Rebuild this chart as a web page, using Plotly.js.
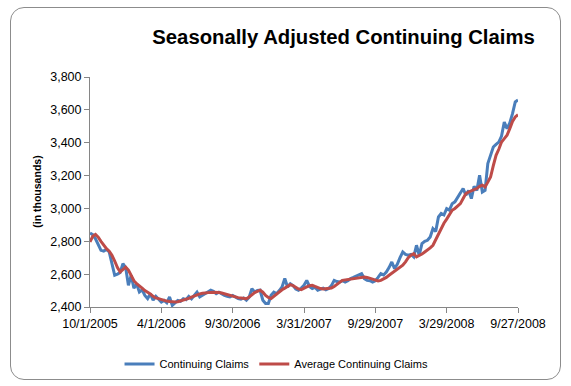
<!DOCTYPE html>
<html>
<head>
<meta charset="utf-8">
<script src="https://cdn.plot.ly/plotly-3.0.1.min.js"></script>
<style>
  html, body { margin: 0; padding: 0; background: #fff; }
  #wrap { position: relative; width: 571px; height: 386px; }
  #chart { width: 571px; height: 386px; }
  #frame { position: absolute; left: 10px; top: 7px; width: 549px; height: 371px;
           border: 1px solid #8c8c8c; border-radius: 14px; pointer-events: none; }
</style>
</head>
<body>
<div id="wrap"><div id="chart"></div><div id="frame"></div></div>
<script>
// Weekly categories: 157 weeks starting 10/1/2005
const firstWeek = '2005-10-01';
const weekCount = 157;
const tickDates = ['2005-10-01','2006-04-01','2006-09-30','2007-03-31','2007-09-29','2008-03-29','2008-09-27'];
const tickLabels = ['10/1/2005','4/1/2006','9/30/2006','3/31/2007','9/29/2007','3/29/2008','9/27/2008'];

// Continuing Claims (thousands)
const continuingClaims = [
  2850, 2840, 2815, 2780, 2745, 2740, 2750, 2735, 2660, 2593,
  2600, 2610, 2664, 2640, 2532, 2593, 2514, 2540, 2491, 2505,
  2470, 2451, 2480, 2441, 2465, 2445, 2430, 2440, 2425, 2461,
  2410, 2425, 2440, 2435, 2451, 2445, 2465, 2450, 2470, 2491,
  2461, 2470, 2481, 2490, 2502, 2495, 2481, 2490, 2478, 2471,
  2465, 2461, 2470, 2458, 2451, 2447, 2455, 2441, 2460, 2512,
  2491, 2500, 2502, 2441, 2421, 2421, 2471, 2490, 2481, 2500,
  2522, 2573, 2522, 2542, 2530, 2510, 2502, 2515, 2532, 2562,
  2525, 2512, 2520, 2502, 2510, 2515, 2505, 2512, 2530, 2562,
  2555, 2552, 2560, 2552, 2560, 2573, 2580, 2590, 2595, 2603,
  2573, 2562, 2560, 2552, 2560, 2580, 2603, 2595, 2613, 2640,
  2674, 2634, 2660, 2700, 2735, 2720, 2715, 2720, 2705, 2776,
  2715, 2786, 2800, 2806, 2826, 2877, 2860, 2948, 2969, 2960,
  2999, 2990, 3029, 3040, 3070, 3100, 3121, 3080, 3110, 3060,
  3135, 3110, 3202, 3100, 3110, 3273, 3323, 3374, 3390, 3404,
  3440, 3526, 3486, 3520, 3577, 3648, 3660
];

// Average Continuing Claims (thousands)
const averageClaims = [
  2796, 2830, 2842, 2825, 2800, 2775, 2755, 2740, 2715, 2680,
  2640, 2613, 2630, 2643, 2625, 2590, 2560, 2542, 2530, 2515,
  2500, 2491, 2480, 2465, 2455, 2451, 2445, 2440, 2436, 2433,
  2431, 2430, 2432, 2436, 2440, 2445, 2452, 2460, 2468, 2475,
  2480, 2484, 2487, 2488, 2489, 2490, 2490, 2489, 2485, 2480,
  2475, 2470, 2465, 2460, 2457, 2455, 2452, 2450, 2460, 2475,
  2488, 2495, 2502, 2490, 2470, 2458, 2451, 2465, 2480, 2495,
  2505, 2515, 2525, 2536, 2530, 2520, 2510, 2506, 2512, 2522,
  2530, 2532, 2525, 2518, 2512, 2510, 2512, 2515, 2516, 2525,
  2540, 2550, 2562, 2565, 2568, 2570, 2572, 2575, 2578, 2580,
  2583, 2580, 2575, 2570, 2562, 2558, 2562, 2570, 2580, 2593,
  2605, 2615, 2625, 2640, 2654, 2675, 2700, 2715, 2725, 2705,
  2712, 2722, 2735, 2745, 2760, 2776, 2810, 2846, 2880, 2910,
  2935, 2960, 2989, 3000, 3015, 3029, 3060, 3090, 3100, 3110,
  3115, 3121, 3135, 3141, 3131, 3160, 3191, 3260, 3323, 3360,
  3404, 3425, 3445, 3486, 3530, 3557, 3570
];

const seriesNames = ['Continuing Claims', 'Average Continuing Claims'];

const weeks = [];
{
  const d0 = new Date(firstWeek + 'T00:00:00Z');
  for (let i = 0; i < weekCount; i++) {
    const d = new Date(d0.getTime() + i * 7 * 86400000);
    weeks.push(d.toISOString().slice(0, 10));
  }
}

const FONT = '"Liberation Sans", Arial, sans-serif';

const traces = [
  { x: weeks, y: continuingClaims, name: seriesNames[0], type: 'scatter', mode: 'lines',
    line: { color: '#4A7EBB', width: 3 } },
  { x: weeks, y: averageClaims, name: seriesNames[1], type: 'scatter', mode: 'lines',
    line: { color: '#BE4B48', width: 3 } }
];

const layout = {
  width: 571, height: 386,
  margin: { l: 90, r: 53, t: 77, b: 79, autoexpand: false },
  paper_bgcolor: '#ffffff', plot_bgcolor: '#ffffff',
  showlegend: true,
  title: {
    text: '<b>Seasonally Adjusted Continuing Claims</b>',
    font: { family: FONT, size: 20.3, color: '#000' },
    xref: 'container', x: 0.6016, xanchor: 'center',
    yref: 'container', y: 0.905, yanchor: 'middle'
  },
  xaxis: {
    type: 'date',
    range: [tickDates[0], tickDates[tickDates.length - 1]],
    tickvals: tickDates, ticktext: tickLabels,
    showgrid: false, zeroline: false,
    showline: true, linecolor: '#868686', linewidth: 1,
    ticks: 'outside', ticklen: 5, tickcolor: '#868686',
    tickfont: { family: FONT, size: 12.5, color: '#000' }
  },
  yaxis: {
    range: [2400, 3800], dtick: 200, tickformat: ',d',
    showgrid: false, zeroline: false,
    showline: true, linecolor: '#868686', linewidth: 1,
    ticks: 'outside', ticklen: 5, tickcolor: '#868686',
    tickfont: { family: FONT, size: 12.5, color: '#000' }
  },
  legend: {
    orientation: 'h', x: 0.069, xanchor: 'left', y: -0.248, yanchor: 'middle',
    font: { family: FONT, size: 11, color: '#000' },
    bgcolor: 'rgba(0,0,0,0)', borderwidth: 0, tracegroupgap: 0
  },
  annotations: [{
    text: '<b>(in thousands)</b>', xref: 'paper', yref: 'paper',
    x: (36.7 - 90) / 428, y: 0.5, xanchor: 'center', yanchor: 'middle',
    textangle: -90, showarrow: false,
    font: { family: FONT, size: 10.5, color: '#000' }
  }]
};

Plotly.newPlot('chart', traces, layout, { displayModeBar: false, staticPlot: true });
</script>
</body>
</html>
